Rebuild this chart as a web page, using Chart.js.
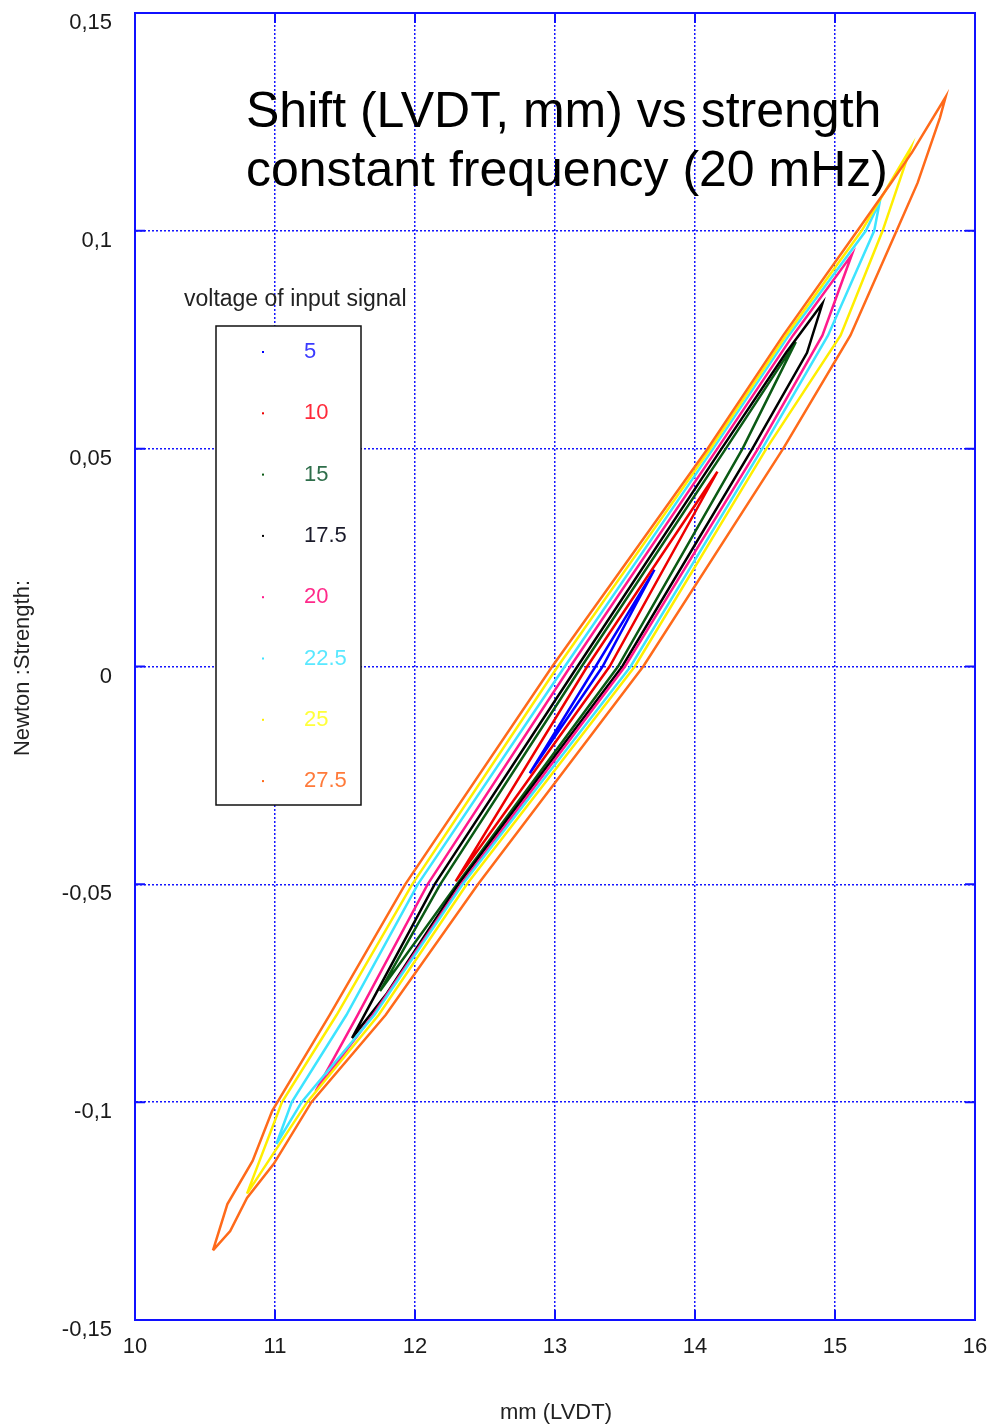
<!DOCTYPE html>
<html lang="en">
<head>
    <meta charset="UTF-8">
    <title>Shift vs strength</title>
    <script src="https://cdn.jsdelivr.net/npm/chart.js"></script>
    <style>
        body {
            margin: 0;
            padding: 0;
            background: #ffffff;
        }
        canvas {
            display: block;
        }
    </style>
</head>
<body>
    <canvas id="loopChart" width="992" height="1428"></canvas>

    <script>
        // tick values and labels
        const xTicks = [10, 11, 12, 13, 14, 15, 16];
        const xTickLabels = ["10", "11", "12", "13", "14", "15", "16"];
        const yTicks = [-0.15, -0.1, -0.05, 0, 0.05, 0.1, 0.15];
        const yTickLabels = ["-0,15", "-0,1", "-0,05", "0", "0,05", "0,1", "0,15"];

        // series: voltage of input signal
        const voltages = ["5", "10", "15", "17.5", "20", "22.5", "25", "27.5"];
        const lineColors = ["#0000ff", "#ee0000", "#0a5a14", "#000000", "#ff1a8c", "#3de4ff", "#ffee00", "#ff6a1a"];
        const labelColors = ["#3a3aff", "#ff2a3a", "#2e6e4a", "#1a1a2a", "#ff2a8a", "#5ae8ff", "#ffff3a", "#ff7a3a"];

        // loops: [mm, newton], bottom tip -> upper branch -> top tip -> lower branch
        const loop5 = [[12.82, -0.0245], [13.29, 0], [13.71, 0.0222], [13.34, 0], [12.82, -0.0245]];
        const loop10 = [[12.29, -0.0493], [13.23, 0], [14.16, 0.0447], [13.39, 0], [12.29, -0.0493]];
        const loop15 = [[11.75, -0.0745], [12.18, -0.05], [13.19, 0], [14.22, 0.05], [14.72, 0.0745],
                        [14.34, 0.05], [13.45, 0], [12.30, -0.05], [11.75, -0.0745]];
        const loop17 = [[11.55, -0.0853], [12.14, -0.05], [13.16, 0], [14.19, 0.05], [14.65, 0.072], [14.91, 0.0833],
                        [14.80, 0.072], [14.41, 0.05], [13.48, 0], [12.31, -0.05], [11.80, -0.075], [11.55, -0.0853]];
        const loop20 = [[11.29, -0.0975], [11.59, -0.08], [12.09, -0.05], [13.11, 0], [14.16, 0.05], [14.70, 0.076], [15.12, 0.0945],
                        [14.91, 0.076], [14.45, 0.05], [13.50, 0], [12.33, -0.05], [11.70, -0.08], [11.29, -0.0975]];
        const loop22 = [[11.01, -0.1096], [11.12, -0.1], [11.51, -0.08], [12.02, -0.05], [13.07, 0], [14.13, 0.05], [14.67, 0.076], [15.22, 0.1], [15.32, 0.1067],
                        [15.28, 0.1], [14.95, 0.076], [14.48, 0.05], [13.54, 0], [12.34, -0.05], [11.71, -0.08], [11.19, -0.1], [11.01, -0.1096]];
        const loop25 = [[10.80, -0.121], [11.05, -0.1], [11.44, -0.08], [11.98, -0.05], [13.02, 0], [14.11, 0.05], [14.65, 0.076], [15.19, 0.1], [15.54, 0.119],
                        [15.34, 0.1], [15.04, 0.076], [14.51, 0.05], [13.57, 0], [12.37, -0.05], [11.74, -0.08], [11.23, -0.1], [10.80, -0.121]];
        const loop27 = [[10.557, -0.134], [10.66, -0.1234], [10.84, -0.1135], [10.98, -0.102], [11.39, -0.08], [11.93, -0.05], [12.98, 0], [14.09, 0.05],
                        [14.63, 0.076], [15.16, 0.1], [15.40, 0.111], [15.55, 0.118], [15.79, 0.1307],
                        [15.75, 0.126], [15.59, 0.111], [15.44, 0.1], [15.11, 0.076], [14.63, 0.05], [13.63, 0], [12.45, -0.05],
                        [11.79, -0.08], [11.26, -0.1], [10.99, -0.1142], [10.80, -0.122], [10.68, -0.1296], [10.557, -0.134]];
        const loops = [loop5, loop10, loop15, loop17, loop20, loop22, loop25, loop27];

        const FONT = "'Liberation Sans', Arial, sans-serif";

        const datasets = loops.map((pts, i) => ({
            label: voltages[i],
            data: pts.map(p => ({ x: p[0], y: p[1] })),
            showLine: true,
            borderColor: lineColors[i],
            backgroundColor: lineColors[i],
            borderWidth: 2.5,
            pointRadius: 0,
            order: loops.length - i
        }));

        // frame, inner ticks, titles and the boxed legend
        const decorations = {
            id: "decorations",
            afterDraw(chart) {
                const ctx = chart.ctx;
                const a = chart.chartArea;
                const sx = chart.scales.x, sy = chart.scales.y;
                ctx.save();

                ctx.strokeStyle = "#1010ff";
                ctx.lineWidth = 2;
                ctx.strokeRect(a.left, a.top, a.right - a.left, a.bottom - a.top);
                ctx.beginPath();
                xTicks.forEach(v => {
                    const px = sx.getPixelForValue(v);
                    ctx.moveTo(px, a.bottom); ctx.lineTo(px, a.bottom - 10);
                    ctx.moveTo(px, a.top); ctx.lineTo(px, a.top + 10);
                });
                yTicks.forEach(v => {
                    const py = sy.getPixelForValue(v);
                    ctx.moveTo(a.left, py); ctx.lineTo(a.left + 10, py);
                    ctx.moveTo(a.right, py); ctx.lineTo(a.right - 10, py);
                });
                ctx.stroke();

                // title inside the plot
                ctx.fillStyle = "#000000";
                ctx.font = "50px " + FONT;
                ctx.textAlign = "left";
                ctx.textBaseline = "alphabetic";
                ctx.fillText("Shift (LVDT, mm) vs strength", 246, 127);
                ctx.fillText("constant frequency (20 mHz)", 246, 186);

                // axis titles
                ctx.fillStyle = "#222222";
                ctx.font = "22px " + FONT;
                ctx.textAlign = "center";
                ctx.textBaseline = "middle";
                ctx.fillText("mm (LVDT)", 556, 1413);
                ctx.save();
                ctx.translate(23, 668);
                ctx.rotate(-Math.PI / 2);
                ctx.fillText("Newton :Strength:", 0, 0);
                ctx.restore();

                // legend
                ctx.textAlign = "left";
                ctx.fillStyle = "#222222";
                ctx.font = "23px " + FONT;
                ctx.fillText("voltage of input signal", 184, 300);
                ctx.fillStyle = "#ffffff";
                ctx.fillRect(216, 326, 145, 479);
                ctx.strokeStyle = "#111111";
                ctx.lineWidth = 1.5;
                ctx.strokeRect(216, 326, 145, 479);
                ctx.font = "22px " + FONT;
                chart.data.datasets.forEach((ds, i) => {
                    const y = 352 + i * 61.3;
                    ctx.fillStyle = ds.borderColor;
                    ctx.fillRect(262, y - 1, 2, 2);
                    ctx.fillStyle = labelColors[i];
                    ctx.fillText(ds.label, 304, y);
                });

                ctx.restore();
            }
        };

        const tickFont = { family: FONT, size: 22 };

        new Chart(document.getElementById("loopChart"), {
            type: "scatter",
            data: { datasets: datasets },
            options: {
                responsive: false,
                animation: false,
                layout: { padding: { top: 13, right: 17, left: 0, bottom: 0 } },
                plugins: {
                    legend: { display: false },
                    tooltip: { enabled: false }
                },
                scales: {
                    x: {
                        type: "linear",
                        min: 10,
                        max: 16,
                        afterBuildTicks: s => { s.ticks = xTicks.map(v => ({ value: v })); },
                        afterFit: s => { s.height = 108; s.paddingLeft = 0; s.paddingRight = 0; },
                        grid: { color: "#1515ff", lineWidth: 1.5, drawTicks: false },
                        border: { color: "#1010ff", width: 2, dash: [2, 2] },
                        ticks: {
                            padding: 14,
                            color: "#1a1a1a",
                            font: tickFont,
                            maxRotation: 0,
                            callback: (v, i) => xTickLabels[i]
                        }
                    },
                    y: {
                        type: "linear",
                        min: -0.15,
                        max: 0.15,
                        afterBuildTicks: s => { s.ticks = yTicks.map(v => ({ value: v })); },
                        afterFit: s => { s.width = 135; s.paddingTop = 0; s.paddingBottom = 0; },
                        grid: { color: "#1515ff", lineWidth: 1.5, drawTicks: false },
                        border: { color: "#1010ff", width: 2, dash: [2, 2] },
                        ticks: {
                            padding: 23,
                            labelOffset: 10,
                            color: "#1a1a1a",
                            font: tickFont,
                            callback: (v, i) => yTickLabels[i]
                        }
                    }
                }
            },
            plugins: [decorations]
        });
    </script>
</body>
</html>
